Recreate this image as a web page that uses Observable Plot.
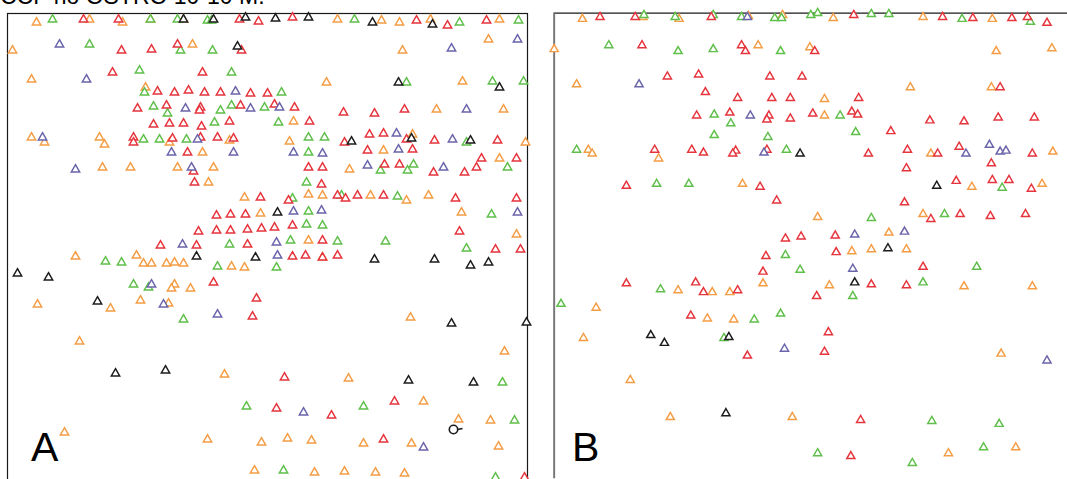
<!DOCTYPE html>
<html>
<head>
<meta charset="utf-8">
<script src="https://cdn.jsdelivr.net/npm/d3@7"></script>
<script src="https://cdn.jsdelivr.net/npm/@observablehq/plot@0.6"></script>
<style>
  html, body { margin: 0; padding: 0; background: #fff; }
  #wrap { position: relative; width: 1067px; height: 479px; overflow: hidden; font-family: "Liberation Sans", Arial, sans-serif; }
  #title { position: absolute; left: 0px; top: -15px; font-size: 23px; white-space: nowrap; color: #000; line-height: 1; }
  .panel { position: absolute; top: 0; }
  .lab { position: absolute; font-size: 41px; line-height: 1; color: #000; }
</style>
</head>
<body>
<div id="wrap">
  <div id="title">CCF no OSTRO 10-10 M.</div>
  <div id="pA" class="panel" style="left:0px"></div>
  <div id="pB" class="panel" style="left:540px"></div>
  <div class="lab" style="left:31px; top:427px">A</div>
  <div class="lab" style="left:572px; top:427px">B</div>
</div>
<script>
// Categories (cell classes) and colours
const classes = ["type 1", "type 2", "type 3", "type 4", "type 5"];
const classColors = ["#f49d45", "#5fbf4a", "#e5343c", "#6a64aa", "#1c1c1c"];

// ---------- Panel A: positions in field units (x across, y down) ----------
const aOrange = [[29,9],[82,6],[115,9],[143,6],[176,6],[330,6],[374,7],[392,9],[423,6],[492,6],[481,26],[395,37],[5,37],[185,31],[24,66],[138,74],[319,69],[455,68],[429,96],[496,96],[286,108],[24,124],[37,129],[92,124],[97,131],[162,129],[222,127],[282,128],[405,121],[518,129],[195,139],[376,137],[492,145],[95,154],[123,154],[170,154],[206,154],[342,156],[201,169],[237,184],[253,200],[301,181],[315,182],[363,182],[399,187],[421,182],[454,199],[509,221],[301,227],[68,243],[129,242],[136,250],[144,250],[159,250],[167,249],[176,250],[224,253],[237,254],[167,271],[164,275],[183,275],[30,291],[103,295],[133,287],[161,290],[403,304],[72,328],[217,361],[497,338],[341,365],[416,388],[451,406],[483,407],[57,419],[200,426],[254,429],[280,425],[304,427],[356,430],[404,430],[491,433],[247,457],[307,459],[337,458],[368,459],[397,460],[315,244]];
const aGreen = [[45,6],[143,6],[170,6],[200,7],[204,7],[347,6],[452,9],[511,7],[82,31],[173,37],[205,37],[132,57],[224,59],[399,69],[485,68],[516,68],[137,79],[274,79],[146,93],[160,100],[213,97],[224,92],[257,94],[207,109],[271,109],[136,126],[152,126],[179,126],[301,124],[317,124],[459,129],[301,139],[373,157],[406,151],[400,157],[500,154],[299,169],[285,185],[334,182],[390,183],[301,198],[484,201],[299,211],[315,212],[222,231],[283,227],[330,228],[378,228],[459,235],[98,248],[114,249],[210,253],[269,254],[126,271],[141,274],[176,306],[239,393],[356,393],[495,369],[507,407],[276,457],[488,464]];
const aRed = [[76,6],[111,6],[232,6],[251,8],[285,4],[409,7],[440,12],[479,7],[114,37],[144,36],[170,31],[234,37],[105,59],[195,59],[150,78],[167,79],[181,77],[197,79],[213,79],[243,80],[260,80],[267,91],[287,94],[336,99],[367,100],[397,96],[130,95],[159,92],[193,94],[192,97],[233,92],[302,108],[146,111],[162,110],[176,110],[194,113],[222,108],[126,124],[126,129],[165,125],[193,124],[210,124],[226,125],[337,129],[362,121],[376,120],[399,126],[427,127],[490,127],[180,139],[360,137],[405,136],[474,145],[509,145],[186,158],[301,154],[315,154],[377,151],[392,151],[426,159],[457,159],[469,154],[187,169],[314,171],[253,184],[209,202],[223,201],[238,201],[281,187],[330,182],[338,185],[350,182],[376,182],[448,185],[509,185],[191,218],[209,217],[223,217],[240,216],[254,215],[267,214],[285,212],[452,218],[153,232],[189,232],[240,231],[315,227],[488,236],[513,236],[285,243],[298,242],[315,244],[330,242],[206,269],[249,285],[245,303],[277,364],[269,395],[324,402],[387,388],[376,426],[517,464]];
const aPurple = [[52,31],[444,35],[510,26],[79,66],[228,78],[272,94],[178,95],[243,95],[459,96],[35,124],[190,126],[389,120],[445,126],[164,139],[226,139],[286,139],[315,140],[391,136],[68,156],[184,154],[360,152],[436,154],[286,198],[314,197],[510,199],[175,231],[269,229],[270,242],[144,271],[156,291],[210,301],[296,399],[416,434]];
const aBlack = [[176,6],[206,6],[238,4],[268,5],[301,4],[365,9],[425,11],[230,33],[391,69],[492,74],[344,128],[404,125],[463,127],[270,199],[189,243],[248,244],[367,246],[427,246],[463,252],[481,249],[10,260],[41,264],[90,288],[444,310],[519,309],[108,360],[158,357],[401,367],[466,369]];
const aMarker = [[446,416]];

// ---------- Panel B ----------
const bOrange = [[29,6],[91,4],[128,6],[199,3],[234,2],[286,5],[378,4],[449,6],[0,37],[209,33],[262,35],[453,39],[510,36],[23,73],[365,76],[448,76],[277,88],[277,105],[35,140],[39,144],[107,149],[386,144],[511,142],[193,175],[428,178],[500,175],[270,209],[378,206],[343,225],[305,244],[325,242],[361,242],[127,284],[162,286],[180,286],[214,277],[282,279],[420,280],[490,280],[43,302],[157,313],[184,314],[30,333],[458,349],[78,376],[119,414],[244,414],[404,451],[473,445]];
const bGreen = [[92,2],[124,4],[163,2],[192,4],[226,5],[233,5],[263,2],[270,0],[325,1],[343,1],[418,6],[488,9],[56,33],[127,39],[163,37],[232,39],[164,104],[181,113],[293,105],[164,125],[219,127],[309,122],[23,140],[238,140],[105,175],[138,175],[459,179],[325,210],[400,206],[237,248],[252,263],[433,260],[109,283],[378,276],[306,290],[7,298],[232,308],[205,314],[174,333],[387,418],[456,421],[270,451],[367,461],[440,445]];
const bRed = [[47,4],[83,4],[161,4],[307,2],[398,4],[429,5],[469,5],[485,4],[505,10],[90,33],[192,33],[196,39],[267,39],[116,65],[148,63],[221,65],[254,65],[155,81],[188,87],[223,87],[242,87],[312,87],[457,76],[146,105],[180,102],[220,105],[218,109],[242,108],[265,103],[305,101],[311,104],[385,110],[420,111],[455,107],[492,107],[345,121],[103,140],[141,140],[153,143],[186,141],[183,144],[218,140],[322,144],[362,140],[393,144],[415,137],[490,144],[361,159],[448,154],[74,177],[211,178],[412,172],[449,171],[466,171],[489,180],[228,192],[359,194],[386,211],[416,206],[447,208],[483,206],[237,231],[253,229],[288,228],[217,249],[289,245],[214,265],[378,260],[74,277],[145,276],[153,286],[188,284],[325,278],[361,279],[269,290],[140,310],[281,327],[198,351],[277,347],[314,417],[304,454]];
const bPurple = [[198,4],[87,73],[201,105],[215,143],[422,144],[446,135],[457,142],[463,141],[308,227],[359,224],[306,262],[236,344],[505,356]];
const bBlack = [[252,144],[392,177],[342,241],[308,276],[99,330],[113,338],[179,332],[176,410]];

function rows(list, cls) { return list.map(([x, y]) => ({x, y, cls})); }
const dataA = [...rows(aOrange,classes[0]), ...rows(aGreen,classes[1]), ...rows(aRed,classes[2]), ...rows(aPurple,classes[3]), ...rows(aBlack,classes[4])];
const dataB = [...rows(bOrange,classes[0]), ...rows(bGreen,classes[1]), ...rows(bRed,classes[2]), ...rows(bPurple,classes[3]), ...rows(bBlack,classes[4])];

const colorScale = {type: "ordinal", domain: classes, range: classColors};

const plotA = Plot.plot({
  width: 540, height: 492,
  marginLeft: 7, marginTop: 13, marginRight: 13, marginBottom: 2,
  x: {domain: [0, 520], range: [7, 527], axis: null},
  y: {domain: [0, 477], range: [13, 490], axis: null},
  color: colorScale,
  marks: [
    Plot.frame({stroke: "#1a1a1a", strokeWidth: 1.2}),
    Plot.dot(dataA, {x: "x", y: "y", stroke: "cls", symbol: "triangle", r: 3.1, strokeWidth: 1.5, fill: "white"}),
    Plot.dot(aMarker, {x: d => d[0], y: d => d[1], symbol: "circle", r: 4.2, stroke: "#1a1a1a", strokeWidth: 1.6, fill: "none"}),
    Plot.link(aMarker, {x1: d => d[0] + 4, y1: d => d[1], x2: d => d[0] + 9, y2: d => d[1] - 1, stroke: "#1a1a1a", strokeWidth: 1.6})
  ]
});
document.getElementById("pA").appendChild(plotA);

const plotB = Plot.plot({
  width: 540, height: 492,
  marginLeft: 14, marginTop: 13, marginRight: 0, marginBottom: 2,
  x: {domain: [0, 526], range: [14, 540], axis: null},
  y: {domain: [0, 477], range: [13, 490], axis: null},
  color: colorScale,
  marks: [
    Plot.ruleY([0], {stroke: "#1a1a1a", strokeWidth: 1.2}),
    Plot.ruleX([0], {stroke: "#777", strokeWidth: 2}),
    Plot.dot(dataB, {x: "x", y: "y", stroke: "cls", symbol: "triangle", r: 3.1, strokeWidth: 1.5, fill: "white"})
  ]
});
document.getElementById("pB").appendChild(plotB);
</script>
</body>
</html>
